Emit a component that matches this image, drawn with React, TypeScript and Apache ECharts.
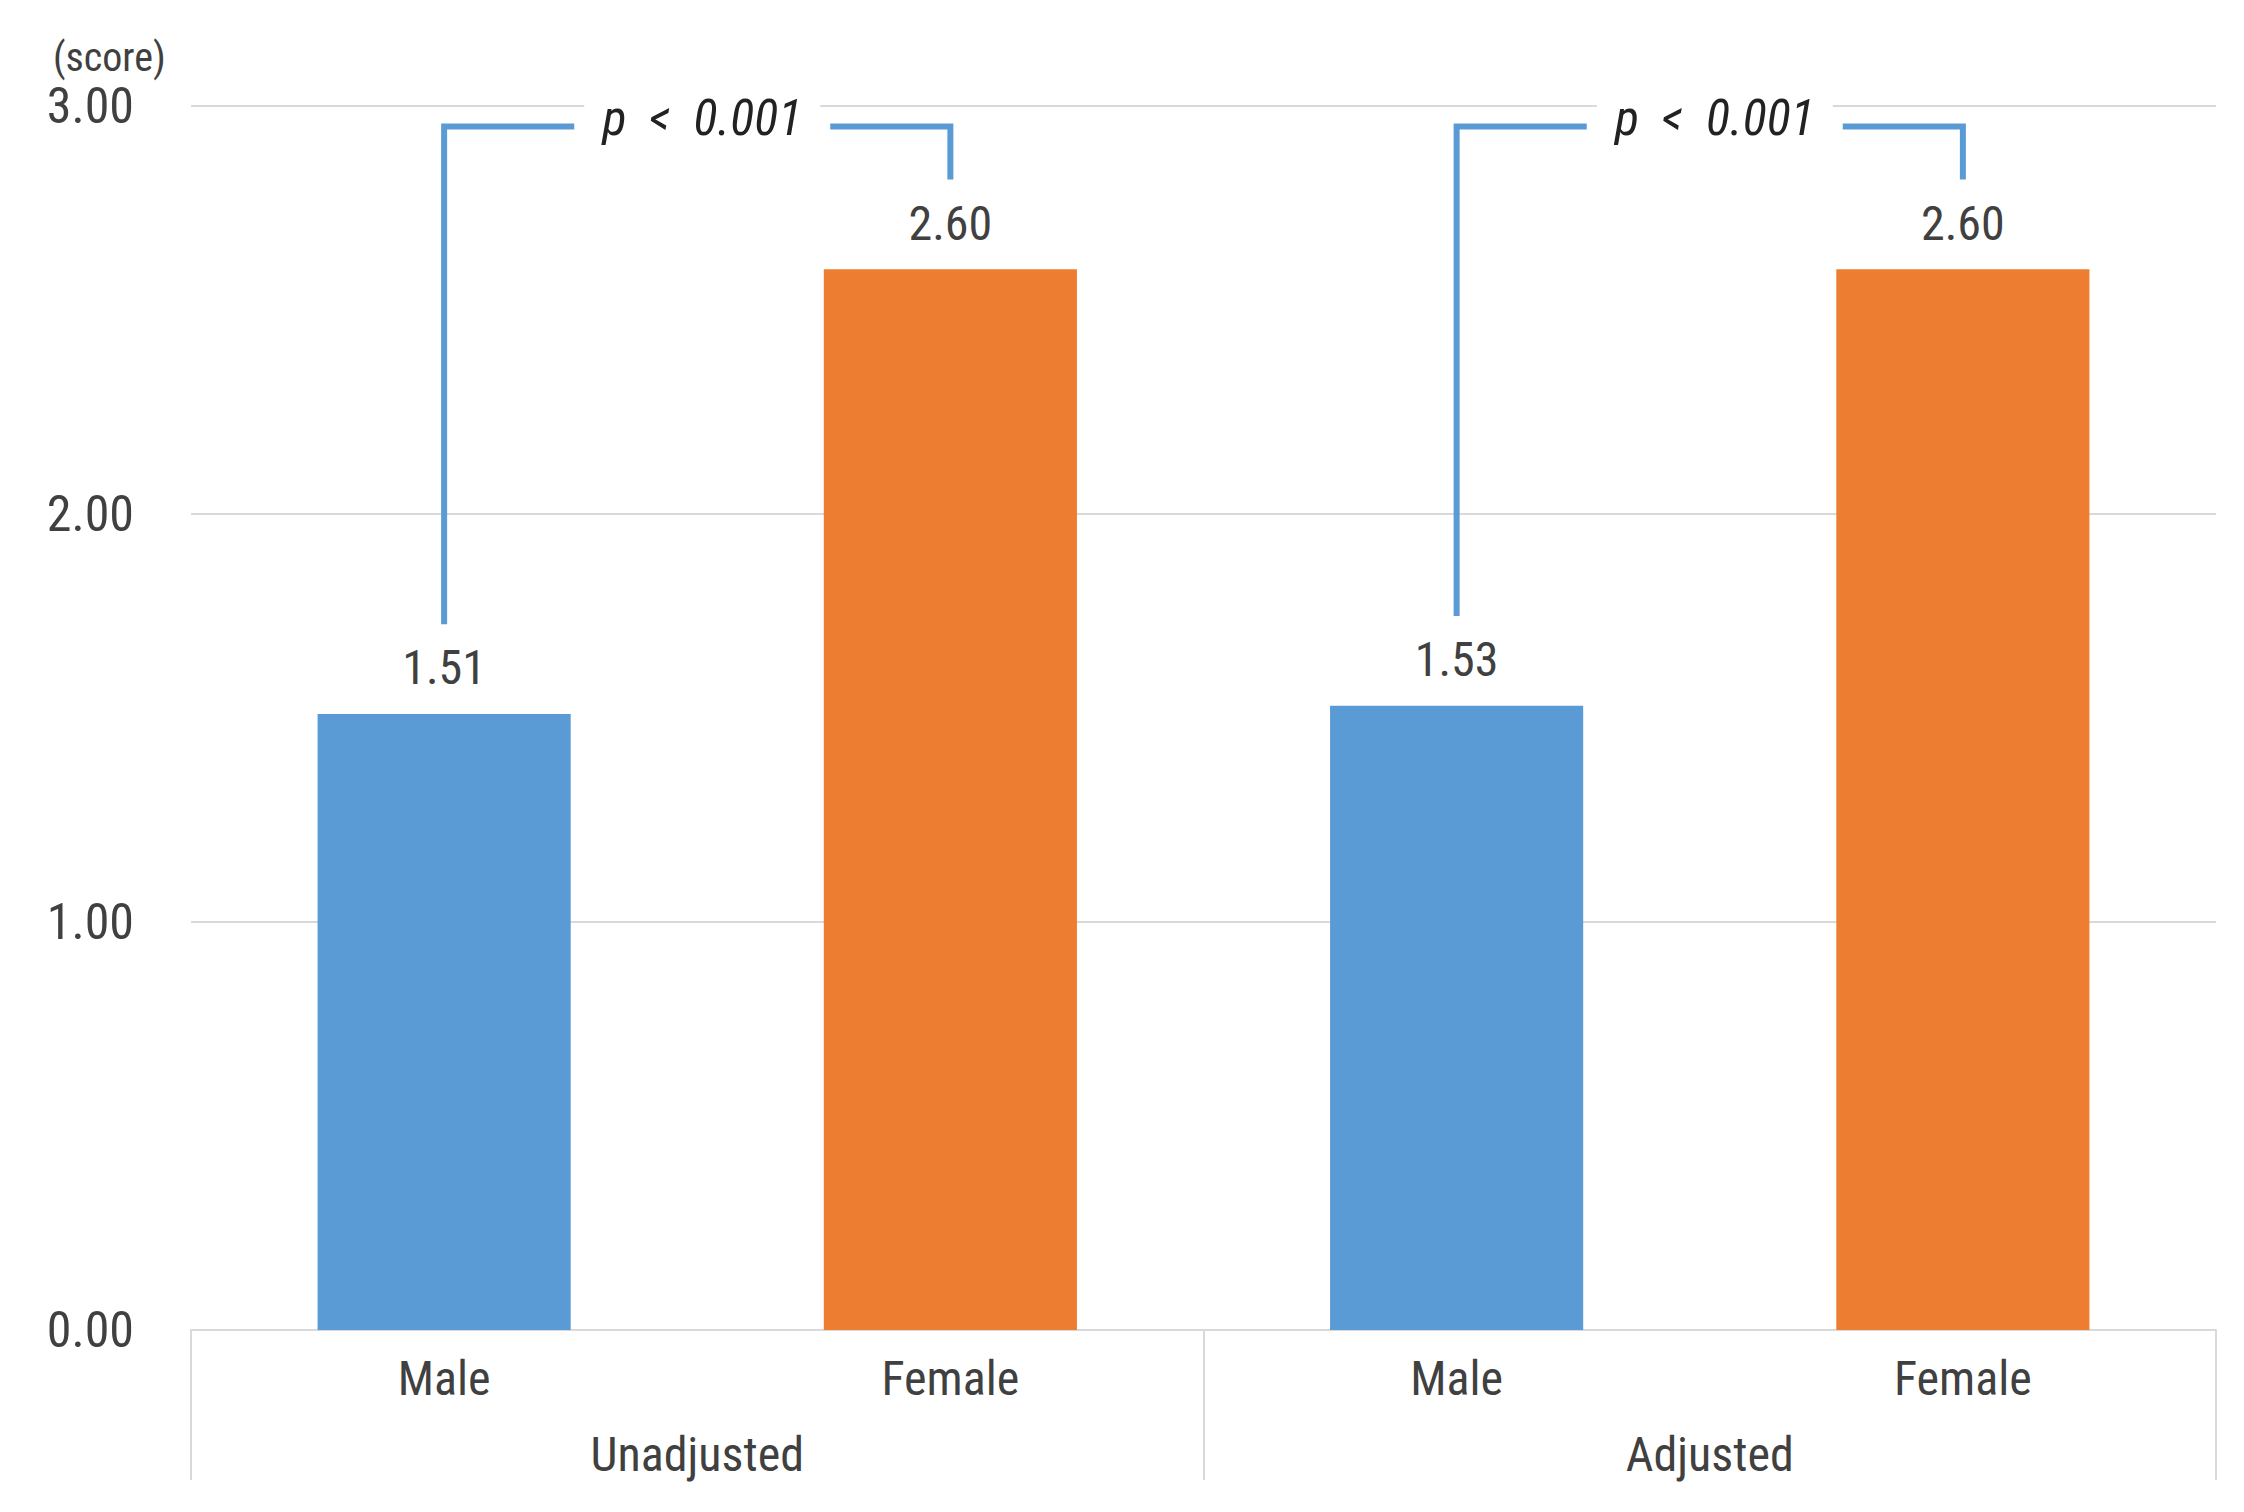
import React, { useEffect, useRef } from "react";
import * as echarts from "echarts";

const categories = ["Male", "Female", "Male", "Female"];
const groups = ["Unadjusted", "Adjusted"];
const values = [1.51, 2.6, 1.53, 2.6];
const barColors = ["#5B9BD5", "#ED7D31", "#5B9BD5", "#ED7D31"];
const yMin = 0;
const yMax = 3;
const yInterval = 1;
// comparisons: [left bar index, right bar index, left bar value]
const comparisons = [
  [0, 1, 1.51],
  [2, 3, 1.53],
];
const pLabels = ["p  <  0.001", "p  <  0.001"];

const FONT = "'Liberation Sans Narrow', 'Roboto Condensed', 'DejaVu Sans Condensed', 'Liberation Sans', sans-serif";
const TEXT = "#404040";
const GRID = "#d9d9d9";

export default function App() {
  const ref = useRef<HTMLDivElement>(null);
  useEffect(() => {
    if (!ref.current) return;
    const chart = echarts.init(ref.current, undefined, { renderer: "svg" });
    const option: any = {
      animation: false,
      backgroundColor: "#ffffff",
      title: {
        text: "(score)",
        left: 48,
        top: 32,
        textStyle: { fontFamily: FONT, fontSize: 40, fontWeight: "normal", color: TEXT },
      },
      grid: { left: 191, right: 28, top: 106, bottom: 182, containLabel: false },
      xAxis: [
        {
          type: "category",
          data: categories,
          boundaryGap: true,
          axisLine: { show: true, lineStyle: { color: GRID, width: 2 } },
          axisTick: { show: false },
          axisLabel: { margin: 24, fontFamily: FONT, fontSize: 48, color: TEXT, interval: 0 },
          splitLine: { show: false },
        },
        {
          type: "category",
          data: groups,
          position: "bottom",
          boundaryGap: true,
          axisLine: { show: false },
          axisTick: { show: true, length: 150, interval: 0, lineStyle: { color: GRID, width: 2 } },
          axisLabel: { margin: 100, fontFamily: FONT, fontSize: 48, color: TEXT, interval: 0 },
          splitLine: { show: false },
        },
      ],
      yAxis: {
        type: "value",
        min: yMin,
        max: yMax,
        interval: yInterval,
        axisLine: { show: false },
        axisTick: { show: false },
        axisLabel: {
          margin: 57,
          fontFamily: FONT,
          fontSize: 50,
          color: TEXT,
          formatter: (v: number) => v.toFixed(2),
        },
        splitLine: { show: true, lineStyle: { color: GRID, width: 2 } },
      },
      series: [
        {
          type: "bar",
          xAxisIndex: 0,
          barWidth: "50%",
          data: values.map((v, i) => ({ value: v, itemStyle: { color: barColors[i] } })),
          label: {
            show: true,
            position: "top",
            distance: 22,
            fontFamily: FONT,
            fontSize: 48,
            color: TEXT,
            formatter: (p: any) => Number(p.value).toFixed(2),
          },
        },
        {
          type: "custom",
          xAxisIndex: 0,
          silent: true,
          z: 5,
          encode: { x: [0, 1], y: 2 },
          data: comparisons,
          renderItem: (params: any, api: any) => {
            const i1 = api.value(0);
            const i2 = api.value(1);
            const v1 = api.value(2);
            const pLB = api.coord([i1, v1 + 0.22]);
            const pLT = api.coord([i1, 2.95]);
            const pRT = api.coord([i2, 2.95]);
            const pRB = api.coord([i2, 2.82]);
            const mid = (pLT[0] + pRT[0]) / 2 + 5;
            const gap = 128;
            const ls = { stroke: "#5B9BD5", lineWidth: 6, fill: "none" };
            return {
              type: "group",
              children: [
                {
                  type: "polyline",
                  shape: { points: [pLB, pLT, [mid - gap, pLT[1]]] },
                  style: ls,
                },
                {
                  type: "polyline",
                  shape: { points: [[mid + gap, pRT[1]], pRT, pRB] },
                  style: ls,
                },
                {
                  type: "rect",
                  shape: { x: mid - gap + 10, y: pLT[1] - 36, width: 2 * gap - 20, height: 30 },
                  style: { fill: "#ffffff" },
                },
                {
                  type: "text",
                  x: mid,
                  y: pLT[1] - 8,
                  style: {
                    text: pLabels[params.dataIndex],
                    fontFamily: FONT,
                    fontSize: 50,
                    fontStyle: "italic",
                    fill: "#222222",
                    align: "center",
                    verticalAlign: "middle",
                  },
                },
              ],
            };
          },
        },
      ],
    };
    chart.setOption(option);
    return () => chart.dispose();
  }, []);
  return (
    <div
      ref={ref}
      style={{ position: "absolute", left: 0, top: 0, width: 2244, height: 1512, background: "#fff" }}
    />
  );
}
